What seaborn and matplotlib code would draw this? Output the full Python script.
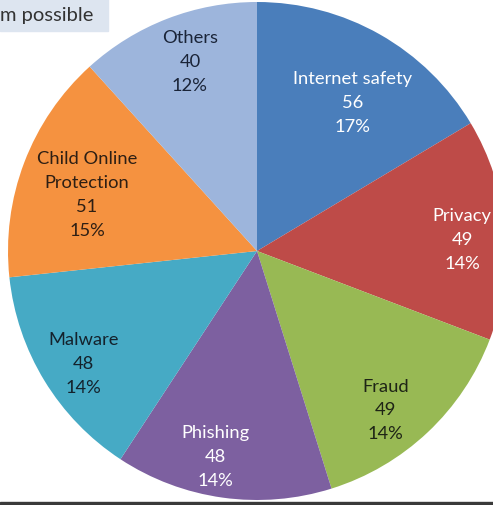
import numpy as np
import matplotlib.pyplot as plt
import matplotlib.patches as mpatches
import seaborn as sns

# data
categories = ["Internet safety", "Privacy", "Fraud", "Phishing", "Malware",
              "Child Online\nProtection", "Others"]
counts = [56, 49, 49, 48, 48, 51, 40]
pct_labels = ["17%", "14%", "14%", "14%", "14%", "15%", "12%"]

slice_colors = ["#4a7ebb", "#be4b48", "#98b954", "#7d60a0", "#46aac5", "#f59240", "#9db5dc"]
text_colors = ["white", "white", "#1e2416", "white", "#14222c", "#2e1f14", "#1a2438"]
# label placement: fraction of radius and small turn (deg) off the slice middle
label_radius = [0.71, 0.825, 0.82, 0.84, 0.83, 0.72, 0.81]
label_turn = [-3, -1.7, -4.2, -3.5, 1.4, 2.3, -1.7]

sns.set_theme(style="white")
plt.rcParams["font.family"] = ["Lato", "DejaVu Sans"]

W, H = 493, 506
fig = plt.figure(figsize=(W / 100, H / 100), dpi=100)
ax = fig.add_axes([0, 0, 1, 1])

# pie centre and radius in pixels
cx, cy, r = 257, 252, 249

wedges, _ = ax.pie(
    counts,
    colors=sns.color_palette(slice_colors),
    startangle=90,
    counterclock=False,
    wedgeprops={"linewidth": 0},
)

for i, w in enumerate(wedges):
    mid = np.deg2rad((w.theta1 + w.theta2) / 2 + label_turn[i])
    lr = label_radius[i]
    ax.text(lr * np.cos(mid), lr * np.sin(mid), f"{categories[i]}\n{counts[i]}\n{pct_labels[i]}",
            ha="center", va="center", color=text_colors[i], fontsize=13.2, linespacing=1.6)

ax.set_xlim(-cx / r, (W - cx) / r)
ax.set_ylim(-(H - cy) / r, cy / r)
ax.set_aspect("auto")
ax.axis("off")

# cut-off caption box at top left
fig.patches.append(mpatches.Rectangle((0, 1 - 32 / H), 108 / W, 32 / H,
                                      transform=fig.transFigure, color="#dde5f0", zorder=5))
fig.text(0, 1 - 15 / H, "m possible", ha="left", va="center",
         fontsize=14.5, color="#333333", zorder=6)

# dark line at the bottom edge
fig.patches.append(mpatches.Rectangle((0, 0), 1, 3.5 / H, transform=fig.transFigure,
                                      color="#3a3a3a", zorder=5))

fig.savefig("out.png", dpi=100)
plt.close(fig)
